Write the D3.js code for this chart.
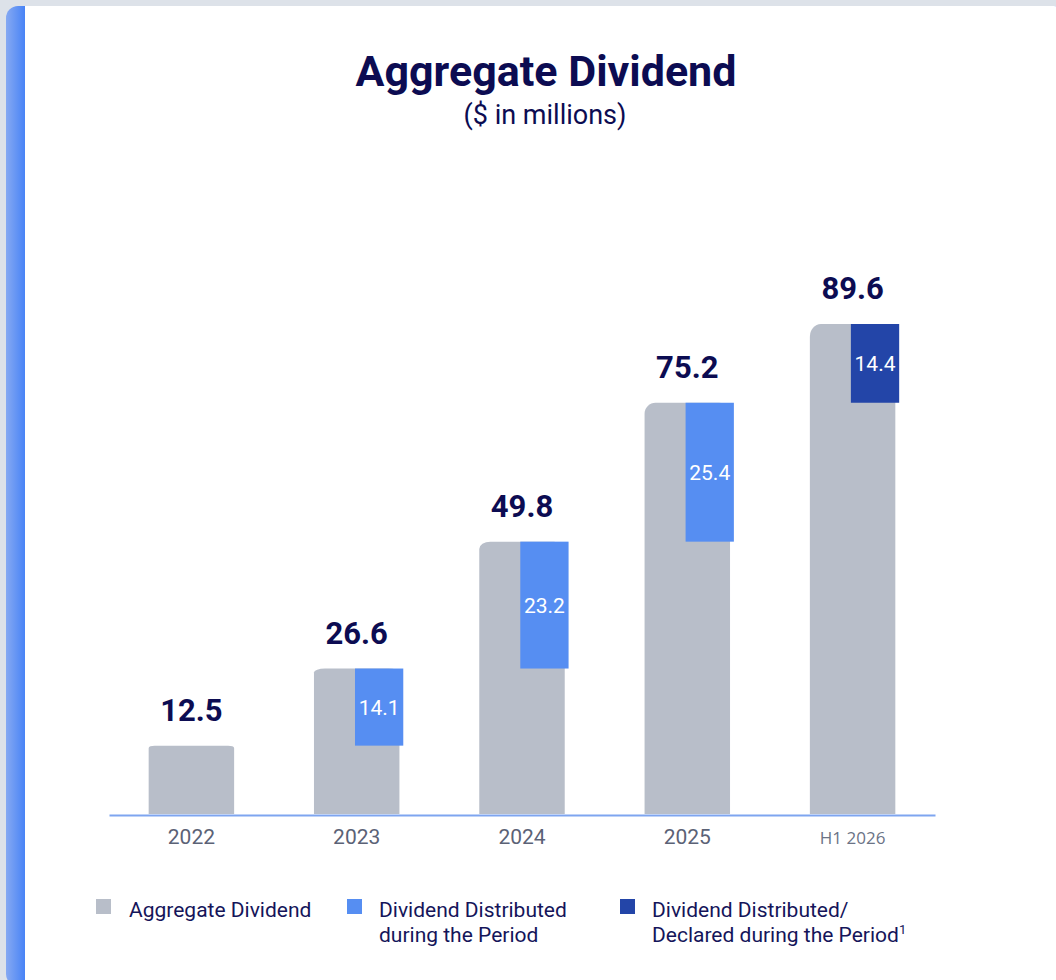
<!DOCTYPE html>
<html>
<head>
<meta charset="utf-8">
<script src="https://cdnjs.cloudflare.com/ajax/libs/d3/7.8.5/d3.min.js"></script>
<style>
  html, body { margin: 0; padding: 0; background: #dde2e9; }
  svg { display: block; font-family: Roboto, "Noto Sans", sans-serif; }
</style>
</head>
<body>
<svg width="1056" height="980"></svg>
<script>
var years = ["2022", "2023", "2024", "2025", "H1 2026"];
var aggregate = [12.5, 26.6, 49.8, 75.2, 89.6];
var distributed = [0, 14.1, 23.2, 25.4, 14.4];
var segmentKind = ["none", "dist", "dist", "dist", "decl"];

var legendLabels = [
  ["Aggregate Dividend"],
  ["Dividend Distributed", "during the Period"],
  ["Dividend Distributed/", "Declared during the Period"]
];

var width = 1056;
var height = 980;
var navy = "#0c0c52";
var colors = { agg: "#b8bec9", dist: "#568ef2", decl: "#2345a8" };

var svg = d3.select("svg");

// card background with blue left strip
var defs = svg.append("defs");
var grad = defs.append("linearGradient").attr("id", "strip")
  .attr("gradientUnits", "userSpaceOnUse")
  .attr("x1", 6).attr("x2", 25).attr("y1", 0).attr("y2", 0);
grad.append("stop").attr("offset", "0%").attr("stop-color", "#86a9f2");
grad.append("stop").attr("offset", "100%").attr("stop-color", "#4883f6");

svg.append("rect").attr("width", width).attr("height", height).attr("fill", "#dde2e9");
svg.append("rect")
  .attr("x", 6).attr("y", 6).attr("width", 1060).attr("height", 980)
  .attr("rx", 12).attr("fill", "url(#strip)");
svg.append("rect")
  .attr("x", 25).attr("y", 6).attr("width", 1025).attr("height", 990)
  .attr("fill", "#ffffff");
svg.append("rect")
  .attr("x", 1030).attr("y", 6).attr("width", 36).attr("height", 990)
  .attr("rx", 12).attr("fill", "#ffffff");

// title
svg.append("text")
  .attr("x", 546).attr("y", 86)
  .attr("text-anchor", "middle")
  .attr("font-size", 43).attr("font-weight", 700)
  .attr("fill", navy)
  .text("Aggregate Dividend");
svg.append("text")
  .attr("x", 545).attr("y", 124)
  .attr("text-anchor", "middle")
  .attr("font-size", 27)
  .attr("fill", navy)
  .text("($ in millions)");

// scales
var x = d3.scaleBand()
  .domain(years)
  .range([109, 935])
  .paddingInner(0.483)
  .paddingOuter(0.24);

var y = d3.scaleLinear()
  .domain([0, 89.6])
  .range([814, 324]);

var data = years.map(function(yr, i){
  return {
    year: yr,
    total: aggregate[i],
    seg: distributed[i],
    base: aggregate[i] - distributed[i],
    kind: segmentKind[i]
  };
});

// gray bars with rounded top corners
function barPath(d){
  var x0 = x(d.year), x1 = x0 + x.bandwidth();
  var top = y(d.total), bottom = y(0);
  var h = bottom - top;
  var rx = 11, ry = Math.min(13, h * 0.027);
  if (d.seg === 0) { rx = 6; ry = 2.5; }
  return "M" + x0 + "," + bottom +
    "L" + x0 + "," + (top + ry) +
    "A" + rx + "," + ry + " 0 0 1 " + (x0 + rx) + "," + top +
    "L" + (x1 - rx) + "," + top +
    "A" + rx + "," + ry + " 0 0 1 " + x1 + "," + (top + ry) +
    "L" + x1 + "," + bottom + "Z";
}

svg.append("g").selectAll("path")
  .data(data)
  .enter().append("path")
  .attr("d", barPath)
  .attr("fill", colors.agg);

// floating segments
var segs = data.filter(function(d){ return d.seg > 0; });
svg.append("g").selectAll("rect")
  .data(segs)
  .enter().append("rect")
  .attr("x", function(d){ return x(d.year) + x.bandwidth() * 0.48; })
  .attr("width", x.bandwidth() * 0.565)
  .attr("y", function(d){ return y(d.total); })
  .attr("height", function(d){ return y(d.base) - y(d.total); })
  .attr("fill", function(d){ return colors[d.kind]; });

svg.append("g").selectAll("text")
  .data(segs)
  .enter().append("text")
  .attr("x", function(d){ return x(d.year) + x.bandwidth() * (0.48 + 0.565 / 2); })
  .attr("y", function(d){ return (y(d.total) + y(d.base)) / 2; })
  .attr("dy", "0.36em")
  .attr("text-anchor", "middle")
  .attr("font-size", 21)
  .attr("fill", "#ffffff")
  .text(function(d){ return d.seg.toFixed(1); });

// totals
svg.append("g").selectAll("text")
  .data(data)
  .enter().append("text")
  .attr("x", function(d){ return x(d.year) + x.bandwidth() / 2; })
  .attr("y", function(d){ return y(d.total) - 25; })
  .attr("text-anchor", "middle")
  .attr("font-size", 31).attr("font-weight", 700)
  .attr("fill", navy)
  .text(function(d){ return d.total.toFixed(1); });

// x axis
var axis = svg.append("g")
  .attr("transform", "translate(0," + 815 + ")")
  .call(d3.axisBottom(x).tickSize(0).tickPadding(0).tickSizeOuter(0));
axis.select(".domain").attr("stroke", "#7ea5f0").attr("stroke-width", 2);
axis.selectAll(".tick text")
  .attr("y", 29).attr("dy", 0)
  .attr("font-family", function(d){ return d === "H1 2026" ? "'Open Sans', sans-serif" : "Roboto, sans-serif"; })
  .attr("font-size", function(d){ return d === "H1 2026" ? 17 : 21; })
  .attr("fill", function(d){ return d === "H1 2026" ? "#6b7386" : "#5b6276"; });

// legend
var legendX = [96, 347, 620];
var legendColors = [colors.agg, colors.dist, colors.decl];
var legend = svg.append("g").selectAll("g")
  .data(legendLabels)
  .enter().append("g")
  .attr("transform", function(d, i){ return "translate(" + legendX[i] + ",899)"; });

legend.append("rect")
  .attr("width", 15).attr("height", 15)
  .attr("fill", function(d, i){ return legendColors[i]; });

legend.each(function(lines, i){
  var t = d3.select(this).append("text")
    .attr("x", i === 0 ? 33 : 32)
    .attr("y", 18)
    .attr("font-size", 21)
    .attr("fill", "#15155a");
  lines.forEach(function(line, j){
    t.append("tspan")
      .attr("x", i === 0 ? 33 : 32)
      .attr("dy", j === 0 ? 0 : 25)
      .text(line);
  });
  if (i === 2) {
    t.append("tspan")
      .attr("font-size", 13)
      .attr("dy", -8)
      .text("1");
  }
});
</script>
</body>
</html>
